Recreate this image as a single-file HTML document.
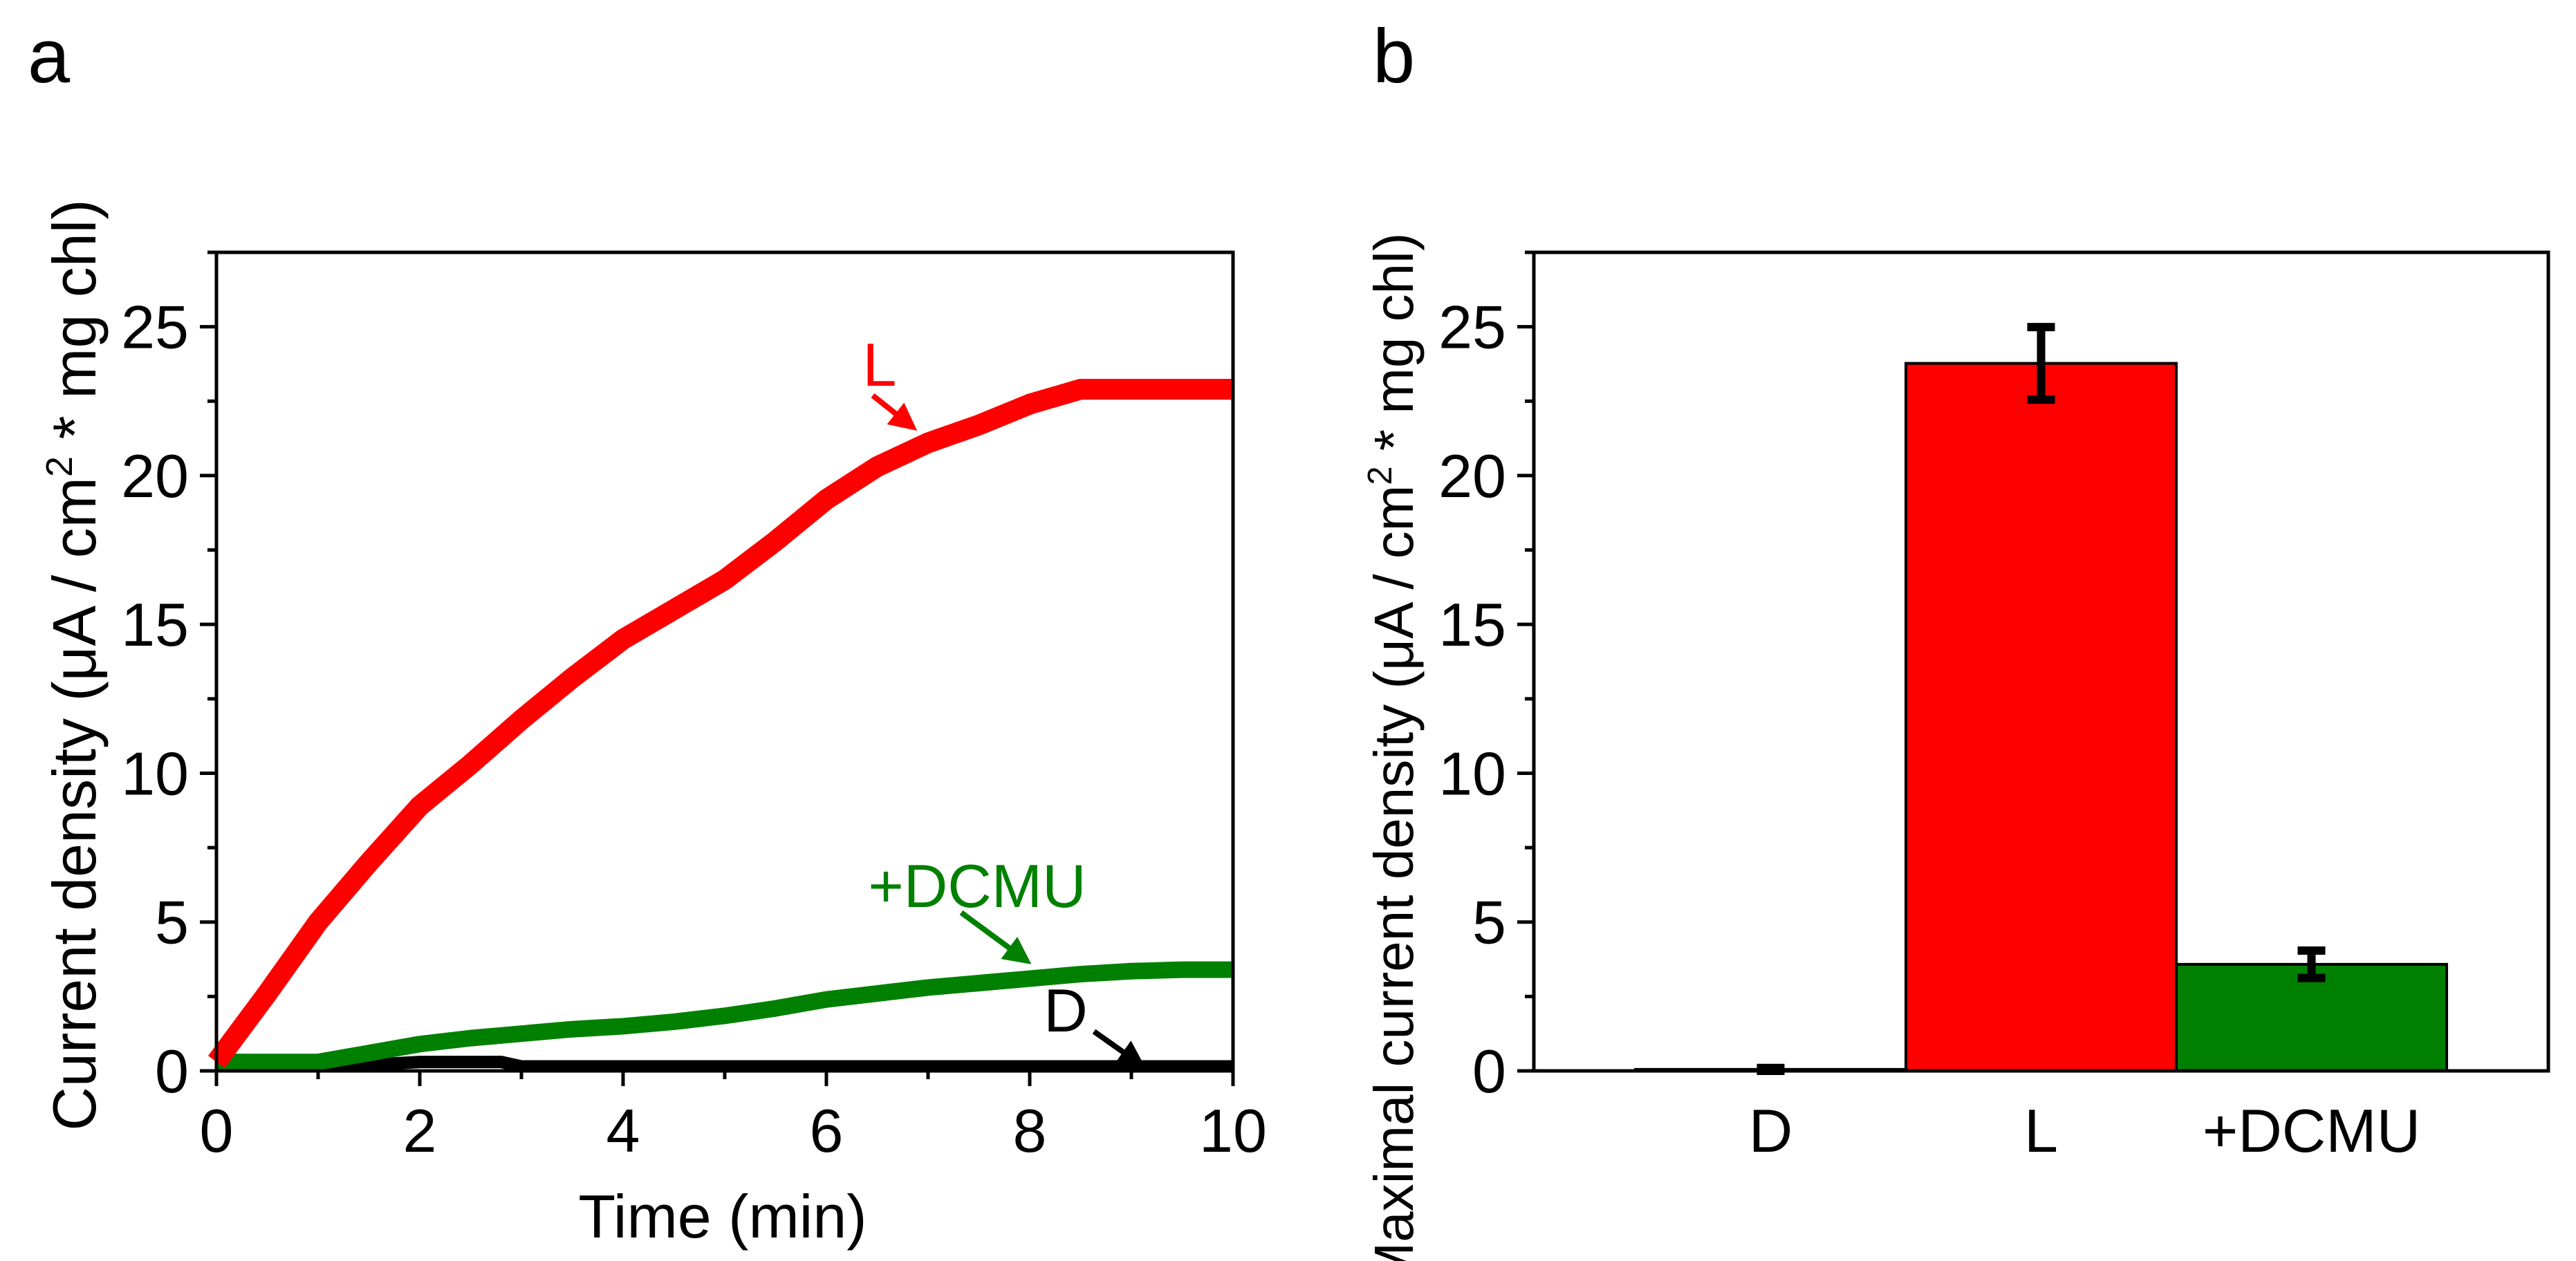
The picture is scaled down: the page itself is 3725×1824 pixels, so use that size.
<!DOCTYPE html>
<html><head><meta charset="utf-8"><style>
html,body{margin:0;padding:0;background:#fff;overflow:hidden}
svg{display:block;font-family:"Liberation Sans",Arial,sans-serif}
</style></head><body>
<svg width="3725" height="1824" viewBox="0 0 3725 1824" xmlns="http://www.w3.org/2000/svg">
<defs>
<marker id="arR" markerWidth="5" markerHeight="5" refX="4" refY="2.5" orient="auto" markerUnits="strokeWidth"><path d="M0,0 L5,2.5 L0,5 z" fill="#ff0000"/></marker>
<marker id="arG" markerWidth="5" markerHeight="5" refX="4" refY="2.5" orient="auto" markerUnits="strokeWidth"><path d="M0,0 L5,2.5 L0,5 z" fill="#008000"/></marker>
<marker id="arK" markerWidth="5" markerHeight="5" refX="4" refY="2.5" orient="auto" markerUnits="strokeWidth"><path d="M0,0 L5,2.5 L0,5 z" fill="#000"/></marker>
</defs>
<text x="40" y="119" font-size="110">a</text>
<text x="1985" y="119" font-size="110">b</text>
<g id="pa"></g>
<g id="pb"></g>
</svg>
<script>
const NS="http://www.w3.org/2000/svg";
// Panel a data
const timeL=[0,0.5,1,1.5,2,2.5,3,3.5,4,4.5,5,5.5,6,6.5,7,7.5,8,8.5,9,9.5,10];
const valL=[0.3,2.6,5,7,8.9,10.3,11.8,13.2,14.5,15.5,16.5,17.8,19.2,20.3,21.1,21.7,22.4,22.9,22.9,22.9,22.9];
const timeG=[0,1,1.5,2,2.5,3,3.5,4,4.5,5,5.5,6,6.5,7,7.5,8,8.5,9,9.5,10];
const valG=[0.3,0.3,0.6,0.9,1.1,1.25,1.4,1.5,1.65,1.85,2.1,2.4,2.6,2.8,2.95,3.1,3.25,3.35,3.4,3.4];
const timeD=[0,1,1.2,2,2.8,3,10];
const valD=[0.3,0.3,0.15,0.3,0.3,0.15,0.15];
const xTicksA=[0,2,4,6,8,10];
const yTicks=[0,5,10,15,20,25];
// Panel b data
const cats=["D","L","+DCMU"];
const barVals=[0.05,23.77,3.58];
const barErr=[0.05,1.22,0.46];
const barColors=["#ffffff","#ff0000","#008000"];

const FS=88;
const Y0=1549, YT=365, YMAX=27.5;
const yS=v=>Y0-(v/YMAX)*(Y0-YT);
const AX0=313, AX1=1783;
const xA=t=>AX0+t/10*(AX1-AX0);
const BX0=2218, BX1=3685, BW=391, BSTART=2365;
const xB=i=>BSTART+i*BW;

function el(tag,attrs,parent,txt){const e=document.createElementNS(NS,tag);for(const k in attrs)e.setAttribute(k,attrs[k]);if(txt!==undefined)e.textContent=txt;parent.appendChild(e);return e;}

const pa=document.getElementById('pa');
function line(ts,vs,color,w,name){
  const p=el('polyline',{points:ts.map((t,i)=>xA(t)+','+yS(vs[i])).join(' '),fill:'none',stroke:color,'stroke-width':w,'stroke-linejoin':'round'},pa);
  
  
}
line(timeD,valD,'#000',18,'series-d');
line(timeG,valG,'#008000',24,'series-dcmu');
line(timeL,valL,'#ff0000',30,'series-l');
const fa=el('rect',{x:AX0,y:YT,width:AX1-AX0,height:Y0-YT,fill:'none',stroke:'#000','stroke-width':5},pa);


function yAxis(parent,x0,name){
  for(let v=0;v<=27.5;v+=2.5){const major=(v%5===0);
    el('line',{x1:x0,x2:x0-(major?24:13),y1:yS(v),y2:yS(v),stroke:'#000','stroke-width':5},parent);}
  yTicks.forEach(v=>{const t=el('text',{x:x0-40,y:yS(v)+31,'font-size':FS,'text-anchor':'end'},parent,String(v));
    
    });
}
yAxis(pa,AX0,'y-axis-a');
for(let t=0;t<=10;t+=1){const major=t%2===0;
  el('line',{x1:xA(t),x2:xA(t),y1:Y0,y2:Y0+(major?22:12),stroke:'#000','stroke-width':5},pa);}
xTicksA.forEach(t=>{const e=el('text',{x:xA(t),y:1666,'font-size':FS,'text-anchor':'middle'},pa,String(t));
  
  });
const xt=el('text',{x:1045,y:1790,'font-size':FS,'text-anchor':'middle'},pa,'Time (min)');


const yt=el('text',{transform:'translate(138,962) rotate(-90)','font-size':FS,'text-anchor':'middle'},pa);


yt.innerHTML='Current density (\u03bcA / cm<tspan dy="-34" font-size="54">2</tspan><tspan dy="34"> * mg chl)</tspan>';
function ann(txt,tx,ty,color,x1,y1,x2,y2,mk,name){
  const t=el('text',{x:tx,y:ty,'font-size':FS,fill:color,'text-anchor':'middle'},pa,txt);
  
  
  const a=el('line',{x1,y1,x2,y2,stroke:color,'stroke-width':8,'marker-end':'url(#'+mk+')'},pa);
  
  
}
ann('L',1272,558,'#ff0000',1262,572,1320,618,'arR','annotation-l');
ann('+DCMU',1413,1312,'#008000',1390,1320,1485,1390,'arG','annotation-dcmu');
ann('D',1541,1492,'#000',1582,1492,1650,1540,'arK','annotation-d');

// Panel b
const pb=document.getElementById('pb');
cats.forEach((c,i)=>{
  const r=el('rect',{x:xB(i),y:yS(barVals[i]),width:BW,height:Y0-yS(barVals[i]),fill:barColors[i],stroke:'#000','stroke-width':4},pb);
  
  
  const cx=xB(i)+BW/2;
  const eb=el('path',{d:`M${cx},${yS(barVals[i]+barErr[i])} V${yS(barVals[i]-barErr[i])} M${cx-20},${yS(barVals[i]+barErr[i])} h40 M${cx-20},${yS(barVals[i]-barErr[i])} h40`,stroke:'#000','stroke-width':12,fill:'none'},pb);
  
  
  const lb=el('text',{x:cx,y:1666,'font-size':FS,'text-anchor':'middle'},pb,c);
  
  
});
const fb=el('rect',{x:BX0,y:YT,width:BX1-BX0,height:Y0-YT,fill:'none',stroke:'#000','stroke-width':5},pb);


yAxis(pb,BX0,'y-axis-b');
const ytb=el('text',{transform:'translate(2043,1100) rotate(-90)','font-size':80,'text-anchor':'middle'},pb);


ytb.innerHTML='Maximal current density (\u03bcA / cm<tspan dy="-31" font-size="49">2</tspan><tspan dy="31"> * mg chl)</tspan>';
</script>
</body></html>
